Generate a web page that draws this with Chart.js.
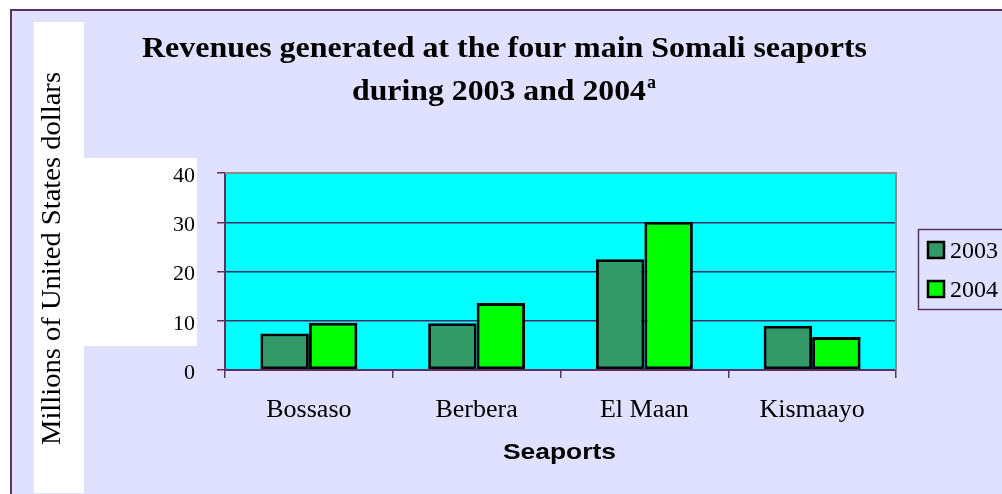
<!DOCTYPE html>
<html>
<head>
<meta charset="utf-8">
<script src="https://cdn.jsdelivr.net/npm/chart.js@4/dist/chart.umd.min.js"></script>
<style>
html,body{margin:0;padding:0;background:#ffffff;}
canvas{display:block;}
</style>
</head>
<body>
<canvas id="c" width="1002" height="494"></canvas>
<script>
const categories = ['Bossaso', 'Berbera', 'El Maan', 'Kismaayo'];
const values2003 = [7.4, 9.5, 22.5, 9.0];
const values2004 = [9.6, 13.6, 30.1, 6.7];
const seriesNames = ['2003', '2004'];
const yTicks = [0, 10, 20, 30, 40];
const titleLine1 = 'Revenues generated at the four main Somali seaports';
const titleLine2 = 'during 2003 and 2004';
const titleSup = 'a';
const yTitle = 'Millions of United States dollars';
const xTitle = 'Seaports';

const COL2003 = '#339966';
const COL2004 = '#00FF00';
const LAV = '#E0E0FF';
const PURPLE = '#5E3068';

function fitText(ctx, text, x, y, font, width, align) {
  ctx.save();
  ctx.font = font;
  const w = ctx.measureText(text).width;
  const s = width / w;
  ctx.translate(x, y);
  ctx.scale(s, 1);
  ctx.textAlign = 'left';
  let ox = 0;
  if (align === 'center') ox = -w / 2;
  ctx.fillText(text, ox, 0);
  ctx.restore();
}

const decor = {
  id: 'decor',
  beforeDraw(chart) {
    const ctx = chart.ctx;
    const a = chart.chartArea;
    ctx.save();
    ctx.fillStyle = '#ffffff';
    ctx.fillRect(0, 0, 1002, 494);
    ctx.fillStyle = LAV;
    ctx.fillRect(10, 9, 992, 485);
    ctx.strokeStyle = PURPLE;
    ctx.lineWidth = 2;
    ctx.beginPath();
    ctx.moveTo(11, 494); ctx.lineTo(11, 10); ctx.lineTo(1002, 10);
    ctx.stroke();
    ctx.fillStyle = '#ffffff';
    ctx.fillRect(34, 22, 50, 471);
    ctx.fillRect(84, 158, 113, 188);
    ctx.fillStyle = '#00FFFF';
    ctx.fillRect(a.left, a.top, a.right - a.left, a.bottom - a.top);
    ctx.restore();
  },
  afterDatasetsDraw(chart) {
    const ctx = chart.ctx;
    const a = chart.chartArea;
    ctx.save();
    ctx.strokeStyle = '#8a8a8a';
    ctx.lineWidth = 2;
    ctx.beginPath();
    ctx.moveTo(a.left, a.top); ctx.lineTo(a.right, a.top); ctx.lineTo(a.right, a.bottom);
    ctx.stroke();
    ctx.restore();
  },
  afterDraw(chart) {
    const ctx = chart.ctx;
    ctx.save();
    ctx.fillStyle = '#000000';
    ctx.textBaseline = 'alphabetic';
    // Title
    fitText(ctx, titleLine1, 142, 57, 'bold 30px "Liberation Serif"', 725, 'left');
    fitText(ctx, titleLine2, 352, 100, 'bold 30px "Liberation Serif"', 294, 'left');
    ctx.font = 'bold 18px "Liberation Serif"';
    ctx.textAlign = 'left';
    ctx.fillText(titleSup, 647, 88);
    // Y title
    ctx.save();
    ctx.translate(60, 445);
    ctx.rotate(-Math.PI / 2);
    fitText(ctx, yTitle, 0, 0, '27px "Liberation Serif"', 373, 'left');
    ctx.restore();
    // X title
    fitText(ctx, xTitle, 503, 459, 'bold 22px "Liberation Sans"', 113, 'left');
    // Legend
    ctx.strokeStyle = PURPLE;
    ctx.lineWidth = 1.5;
    ctx.strokeRect(918.5, 229.5, 100, 80);
    const cols = [COL2003, COL2004];
    const ys = [241, 280];
    for (let i = 0; i < 2; i++) {
      ctx.fillStyle = cols[i];
      ctx.fillRect(927, ys[i], 18, 18);
      ctx.strokeStyle = '#000000';
      ctx.lineWidth = 2.5;
      ctx.strokeRect(928, ys[i] + 1, 16, 16);
      ctx.fillStyle = '#000000';
      ctx.font = '24px "Liberation Serif"';
      ctx.textAlign = 'left';
      ctx.fillText(seriesNames[i], 950, ys[i] + 17);
    }
    ctx.restore();
  }
};

new Chart(document.getElementById('c'), {
  type: 'bar',
  data: {
    labels: categories,
    datasets: [
      { label: seriesNames[0], data: values2003, backgroundColor: COL2003, borderColor: '#000000', borderWidth: 3, borderSkipped: false },
      { label: seriesNames[1], data: values2004, backgroundColor: COL2004, borderColor: '#000000', borderWidth: 3, borderSkipped: false }
    ]
  },
  options: {
    responsive: false,
    devicePixelRatio: 1,
    animation: false,
    layout: { padding: { left: 0, right: 106, top: 173, bottom: 0 } },
    datasets: { bar: { categoryPercentage: 0.578, barPercentage: 1.0 } },
    plugins: { legend: { display: false }, title: { display: false }, tooltip: { enabled: false } },
    scales: {
      x: {
        afterFit(s) { s.height = 124; },
        grid: { display: true, offset: true, drawOnChartArea: false, drawTicks: true, tickLength: 8, color: PURPLE, lineWidth: 1.5 },
        border: { display: true, color: PURPLE, width: 2 },
        ticks: { color: '#000000', padding: 17, font: { family: 'Liberation Serif', size: 26 } }
      },
      y: {
        min: 0, max: 40,
        afterFit(s) { s.width = 225; },
        afterBuildTicks(s) { s.ticks = yTicks.map(v => ({ value: v })); },
        grid: {
          display: true, drawOnChartArea: true, drawTicks: true, tickLength: 8,
          color: (c) => (c.tick && (c.tick.value === 0 || c.tick.value === 40)) ? 'rgba(0,0,0,0)' : '#3A2A66',
          tickColor: PURPLE,
          lineWidth: 1.5
        },
        border: { display: true, color: PURPLE, width: 2 },
        ticks: { color: '#000000', padding: 22, labelOffset: 3, font: { family: 'Liberation Serif', size: 22 } }
      }
    }
  },
  plugins: [decor]
});
</script>
</body>
</html>
